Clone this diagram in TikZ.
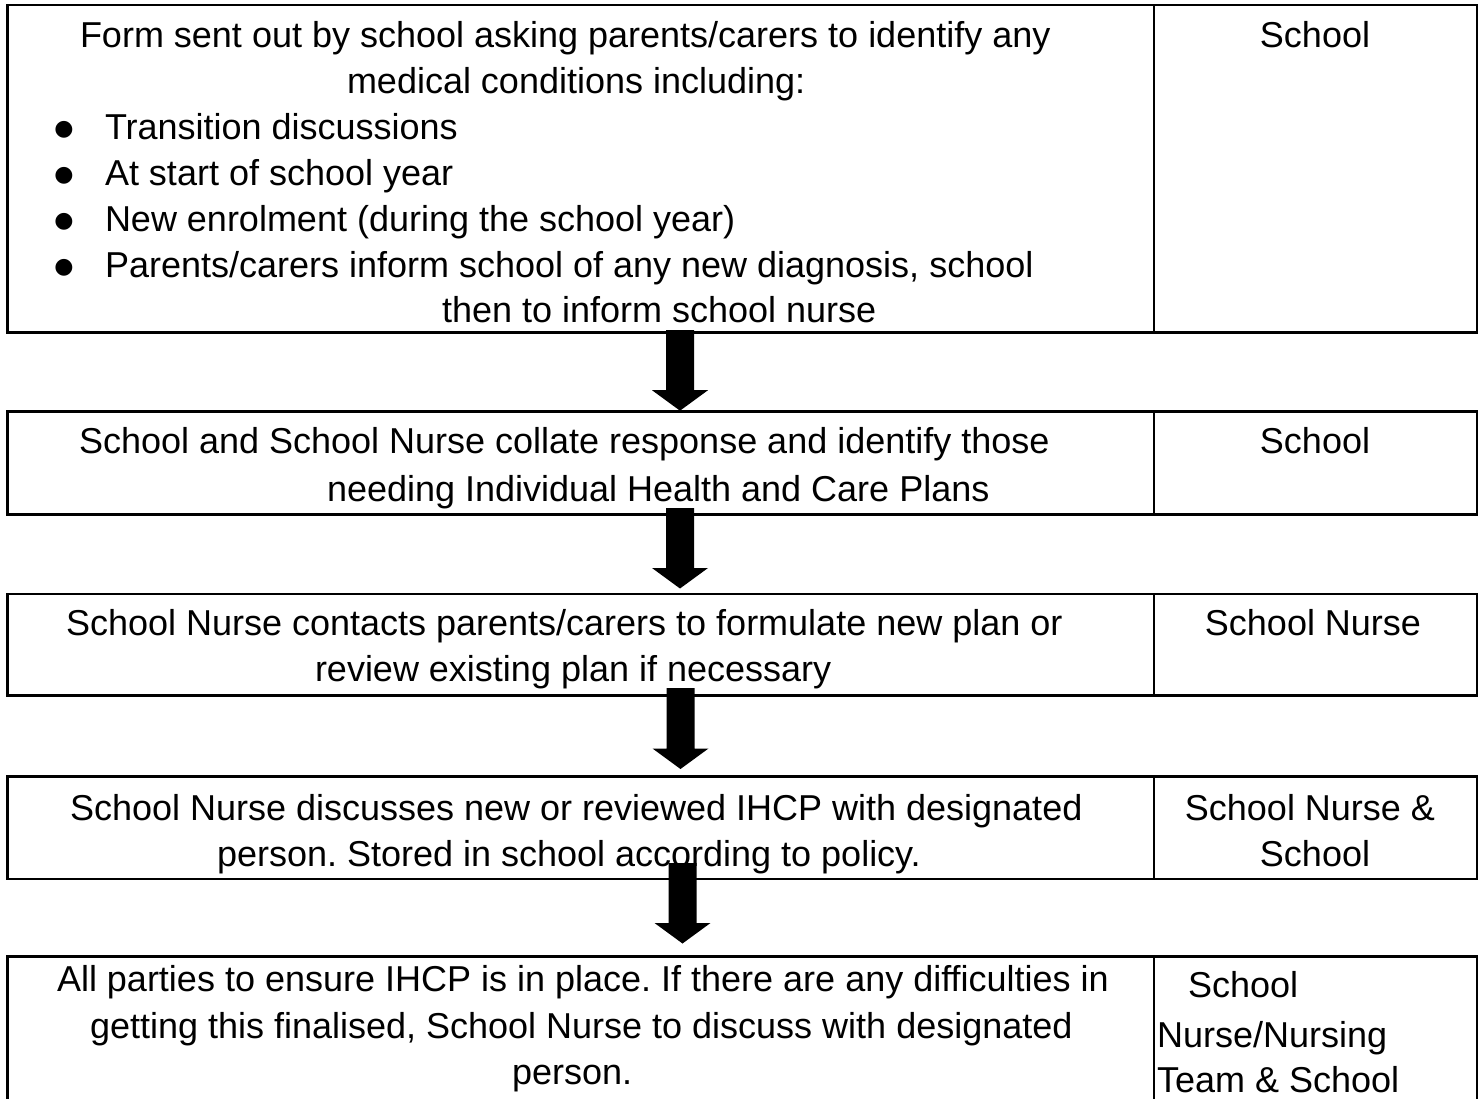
\documentclass[tikz,border=0pt]{standalone}
\usepackage{fontspec}
\setmainfont{Liberation Sans}
\newfontfamily\dejavu{DejaVu Sans}
\frenchspacing
\usetikzlibrary{calc}
\tikzset{
  box/.style={draw, line width=2.6pt, inner sep=0pt, outer sep=0pt, anchor=north west},
  divider/.style={line width=2pt},
  txt/.style={inner sep=0pt, outer sep=0pt, font=\fontsize{36}{43}\selectfont},
  lt/.style={txt, anchor=base west},
  ct/.style={txt, anchor=base},
  bul/.style={inner sep=0pt, outer sep=0pt, anchor=center, font=\dejavu\fontsize{22}{22}\selectfont},
  blockarrow/.style={fill=black, draw=none}
}
\newcommand{\blkarrow}[2]{%
  \path[blockarrow] let \p1=(#1), \p2=(#2) in
    (\x1-14pt,\y1) -- (\x1+14pt,\y1) -- (\x1+14pt,\y2+20.5pt) -- (\x1+28pt,\y2+20.5pt)
    -- (\x2,\y2) -- (\x1-28pt,\y2+20.5pt) -- (\x1-14pt,\y2+20.5pt) -- cycle;}
\begin{document}
\begin{tikzpicture}[x=1pt,y=-1pt]
\useasboundingbox (0,0) rectangle (1483,1099);
\fill[white] (0,0) rectangle (1483,1099);
\clip (0,0) rectangle (1483,1099);

% boxes
\node[box, minimum width=1469.5pt, minimum height=327.5pt] (b1) at (7.5,5) {};
\node[box, minimum width=1469.5pt, minimum height=102.5pt] (b2) at (7.5,411.7) {};
\node[box, minimum width=1469.5pt, minimum height=101.7pt] (b3) at (7.5,594) {};
\node[box, minimum width=1469.5pt, minimum height=102.3pt] (b4) at (7.5,776.7) {};
\node[box, minimum width=1469.5pt, minimum height=170pt] (b5) at (7.5,956.7) {};

% dividers
\draw[divider] (1154,5) -- (1154,332.5);
\draw[divider] (1154,411.7) -- (1154,514.2);
\draw[divider] (1154,594) -- (1154,695.7);
\draw[divider] (1154,776.7) -- (1154,879);
\draw[divider] (1154,956.7) -- (1154,1126.7);

% box 1 text
\node[lt] (t11) at (80,48) {Form sent out by school asking parents/carers to identify any};
\node[lt] (t12) at (347,94) {medical conditions including:};
\node[bul] (u1) at (64,130) {●};
\node[bul] (u2) at (64,176) {●};
\node[bul] (u3) at (64,222) {●};
\node[bul] (u4) at (64,268) {●};
\node[lt] (t13) at (105,140) {Transition discussions};
\node[lt] (t14) at (105,186) {At start of school year};
\node[lt] (t15) at (105,232) {New enrolment (during the school year)};
\node[lt] (t16) at (105,278) {Parents/carers inform school of any new diagnosis, school};
\node[lt] (t17) at (442,323) {then to inform school nurse};
\node[ct] (r1) at (1315,48) {School};

% box 2 text
\node[lt] (t21) at (79,453) {School and School Nurse collate response and identify those};
\node[lt] (t22) at (327,501) {needing Individual Health and Care Plans};
\node[ct] (r2) at (1315,453) {School};

% box 3 text
\node[lt] (t31) at (66,635) {School Nurse contacts parents/carers to formulate new plan or};
\node[lt] (t32) at (315,681.5) {review existing plan if necessary};
\node[ct] (r3) at (1313,635) {School Nurse};

% box 4 text
\node[lt] (t41) at (70,820) {School Nurse discusses new or reviewed IHCP with designated};
\node[lt] (t42) at (217,866.5) {person. Stored in school according to policy.};
\node[ct] (r41) at (1310,820) {School Nurse \&};
\node[ct] (r42) at (1315,866.5) {School};

% box 5 text
\node[lt] (t51) at (57,991) {All parties to ensure IHCP is in place. If there are any difficulties in};
\node[lt] (t52) at (90,1038) {getting this finalised, School Nurse to discuss with designated};
\node[lt] (t53) at (512,1084) {person.};
\node[lt] (r51) at (1188,997) {School};
\node[lt] (r52) at (1157,1047) {Nurse/Nursing};
\node[lt] (r53) at (1157,1092) {Team \& School};

% arrows
\coordinate (a1s) at (680,330);   \coordinate (a1e) at (680,410.7);
\coordinate (a2s) at (680,508);   \coordinate (a2e) at (680,588.5);
\coordinate (a3s) at (680.5,688); \coordinate (a3e) at (680.5,769);
\coordinate (a4s) at (682.5,863); \coordinate (a4e) at (682.5,943.5);
\blkarrow{a1s}{a1e}
\blkarrow{a2s}{a2e}
\blkarrow{a3s}{a3e}
\blkarrow{a4s}{a4e}
\end{tikzpicture}
\end{document}
